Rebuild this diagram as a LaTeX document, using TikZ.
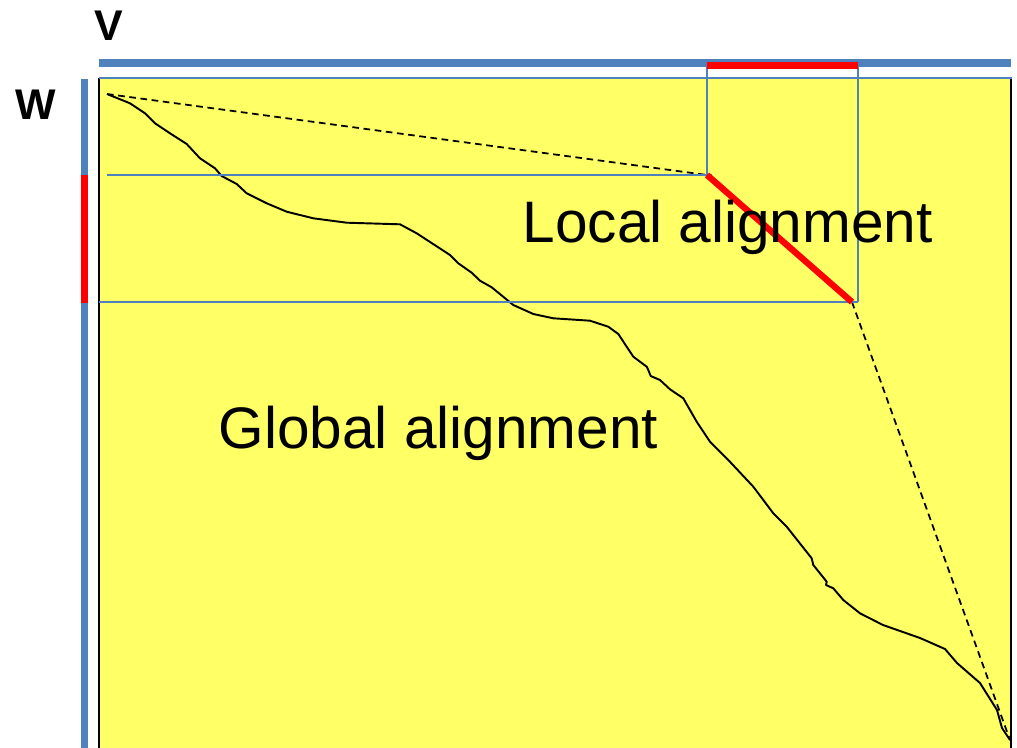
\documentclass[tikz,border=0pt]{standalone}
\usepackage{fontspec}
\setmainfont{Liberation Sans}
\definecolor{barblue}{HTML}{4F81BD}
\definecolor{boxyellow}{HTML}{FFFF66}
\definecolor{hired}{HTML}{FF0000}
\tikzset{
  thinblue/.style={draw=barblue, line width=0.6pt},
  thickbar/.style={line width=2.1pt},
  redbar/.style={draw=hired, line width=2.2pt},
  reddiag/.style={draw=hired, line width=1.8pt},
  pathline/.style={draw=black, line width=0.55pt, line join=round},
  dashline/.style={draw=black, line width=0.5pt, dash pattern=on 1.9pt off 1.3pt},
  bigtext/.style={inner sep=0pt, font=\fontsize{16.65}{20}\selectfont},
  labeltext/.style={inner sep=0pt, font=\bfseries\fontsize{12.2}{14}\selectfont}
}
\begin{document}
\begin{tikzpicture}[x=0.01cm,y=-0.01cm]
\useasboundingbox (0,0) rectangle (1017,748);
% matrix area
\fill[boxyellow] (99,78) rectangle (1012,748);
\draw[black, line width=0.6pt] (99,78) -- (99,748);
\draw[black, line width=0.6pt] (1011,78) -- (1011,748);
% coordinates
\coordinate (s) at (107,94);
\coordinate (e) at (1010,740);
\coordinate (la) at (707,175);
\coordinate (lb) at (852,302);
\coordinate (vl) at (707,64);
\coordinate (vr) at (858,64);
\coordinate (hl1) at (107,175);
\coordinate (hr1) at (712,175);
\coordinate (hl2) at (99,302);
\coordinate (hr2) at (858,302);
% global alignment path
\draw[pathline] plot coordinates {
(107,94) (130,103.3) (145,113.3) (155,123.3) (170,133.3) (186.7,144) (200,158.3)
(215,168.3) (221.7,176) (236.7,184) (246.7,193.3) (266.7,203.3) (286.7,211.7)
(313.3,218.3) (346.7,222.7) (400,224.3) (416.7,233.3) (450,255) (458.3,263.3)
(471.7,272.7) (480,280.7) (491.7,287.3) (513.3,305) (533.3,314) (553.3,318.3)
(590,320.7) (608.3,326.7) (618.3,334) (633.3,356.7) (646.7,366.7) (648.3,370)
(650.7,376) (660,380) (670,389.3) (683.3,398.3) (696.7,421.7) (710,441.7)
(728.3,460) (753.3,486.7) (773.3,513.3) (786.7,526.7) (811.7,558.3) (813.3,565)
(826.7,581.7) (826,585) (833.3,588.3) (843.3,600) (860,613.3) (883,625)
(920,638) (945,649) (957,663) (980,683) (997,710) (1002,728) (1010,740)};
% dashed lines
\draw[dashline] (s) -- (la);
\draw[dashline] (lb) -- (e);
% thin blue lines
\draw[thinblue] (99,78) -- (1012,78);
\draw[thinblue] (vl) -- (la);
\draw[thinblue] (vr) -- (hr2);
\draw[thinblue] (hl1) -- (hr1);
\draw[thinblue] (hl2) -- (hr2);
% sequence bars
\draw[thickbar, barblue] (99,63) -- (1011,63);
\draw[thickbar, barblue] (84.5,79) -- (84.5,748);
\draw[redbar] (707,65.5) -- (858,65.5);
\draw[redbar] (84.5,175) -- (84.5,302.5);
% local alignment segment
\draw[reddiag] (la) -- (lb);
% labels
\node[bigtext, anchor=base west] (local) at (522,242.5) {Local alignment};
\node[bigtext, anchor=base west] (global) at (218,448.5) {Global alignment};
\node[labeltext, anchor=base] (v) at (108.5,40) {V};
\node[labeltext, anchor=base] (w) at (36,119.5) {W};
\end{tikzpicture}
\end{document}
